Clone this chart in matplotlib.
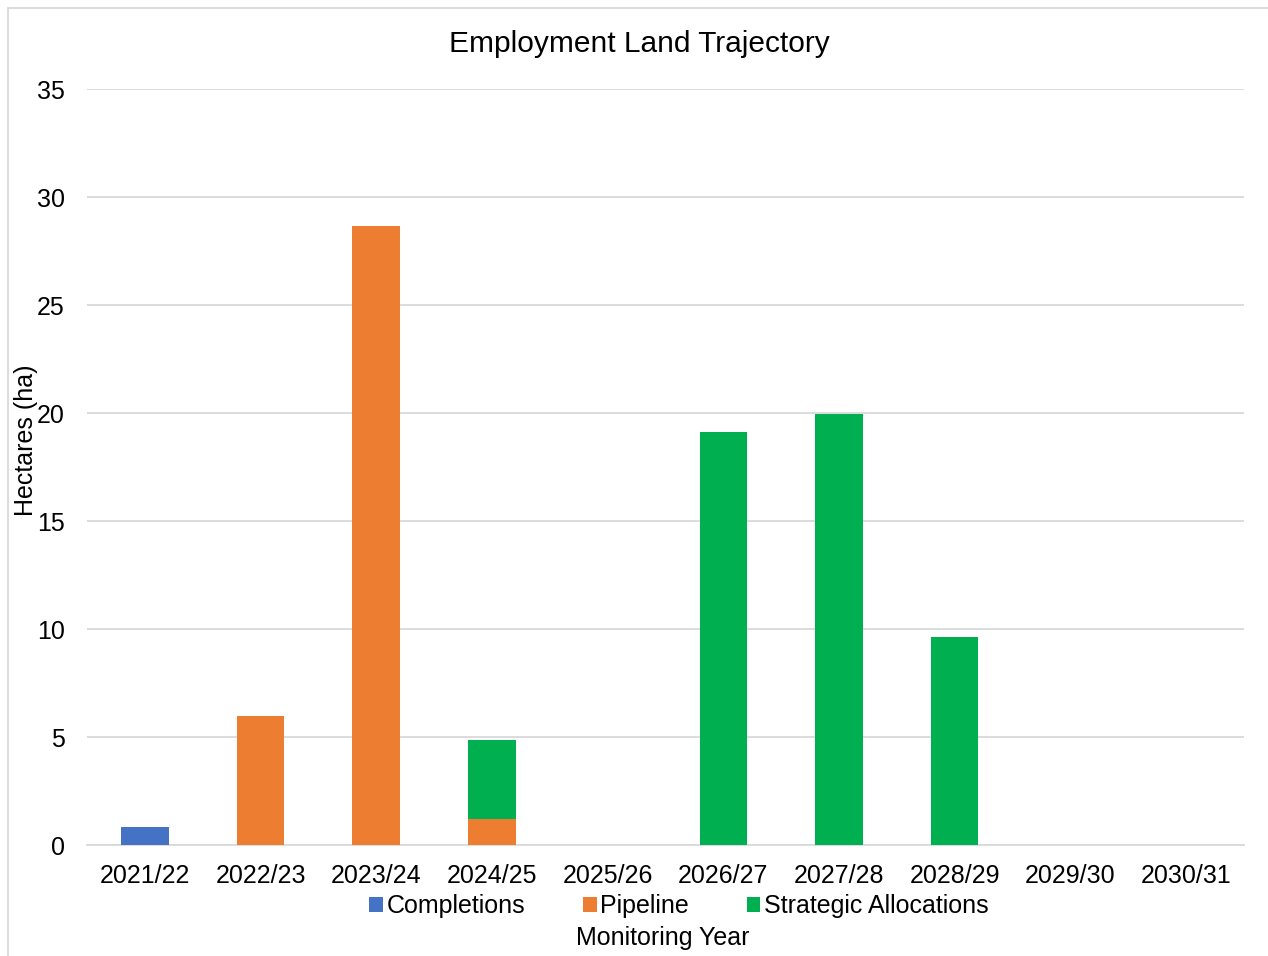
import matplotlib.pyplot as plt
from matplotlib.patches import Rectangle
import numpy as np

plt.rcParams['font.family'] = ['Liberation Sans', 'DejaVu Sans']

years = ['2021/22', '2022/23', '2023/24', '2024/25', '2025/26',
         '2026/27', '2027/28', '2028/29', '2029/30', '2030/31']
completions = [0.83, 0, 0, 0, 0, 0, 0, 0, 0, 0]
pipeline = [0, 5.97, 28.66, 1.2, 0, 0, 0, 0, 0, 0]
strategic = [0, 0, 0, 3.66, 0, 19.12, 19.95, 9.63, 0, 0]

c_blue = '#4472C4'
c_orange = '#ED7D31'
c_green = '#00B050'

fig = plt.figure(figsize=(12.68, 9.56), dpi=100)
ax = fig.add_axes([0.0686, 0.1161, 0.9124, 0.7908])

x = np.arange(len(years))
w = 0.41
ax.bar(x, completions, w, color=c_blue, label='Completions', zorder=3)
ax.bar(x, pipeline, w, bottom=completions, color=c_orange, label='Pipeline', zorder=3)
base = np.array(completions) + np.array(pipeline)
ax.bar(x, strategic, w, bottom=base, color=c_green, label='Strategic Allocations', zorder=3)

ax.set_xlim(-0.5, len(years) - 0.5)
ax.set_ylim(0, 35)
ax.set_yticks(range(0, 36, 5))
ax.set_xticks(x)
ax.set_xticklabels(years)
ax.tick_params(axis='both', length=0, labelsize=18, colors='black')
ax.tick_params(axis='y', pad=16)
ax.tick_params(axis='x', pad=14)
ax.grid(axis='y', color='#D9D9D9', linewidth=1.3, zorder=0)
for s in ['top', 'right', 'left']:
    ax.spines[s].set_visible(False)
ax.spines['bottom'].set_color('#D9D9D9')
ax.spines['bottom'].set_linewidth(1.3)

fig.text(639 / 1268, 1 - 44 / 956, 'Employment Land Trajectory', ha='center', va='center', fontsize=21.5)
fig.text(26 / 1268, 1 - 440 / 956, 'Hectares (ha)', rotation=90, ha='center', va='center', fontsize=18)
fig.text(663 / 1268, 1 - 938 / 956, 'Monitoring Year', ha='center', va='center', fontsize=18)

fig.legend(loc='center', bbox_to_anchor=(679 / 1268, 1 - 906 / 956), ncol=3, frameon=False,
           fontsize=18, handlelength=0.55, handleheight=0.55, handletextpad=0.15,
           columnspacing=2.3, borderpad=0)

fig.patches.append(Rectangle((8 / 1268, -0.01), 1.0, 1 - 8 / 956 + 0.01, transform=fig.transFigure,
                             fill=False, edgecolor='#D9D9D9', linewidth=1.3))

fig.savefig('out.png', dpi=100)
